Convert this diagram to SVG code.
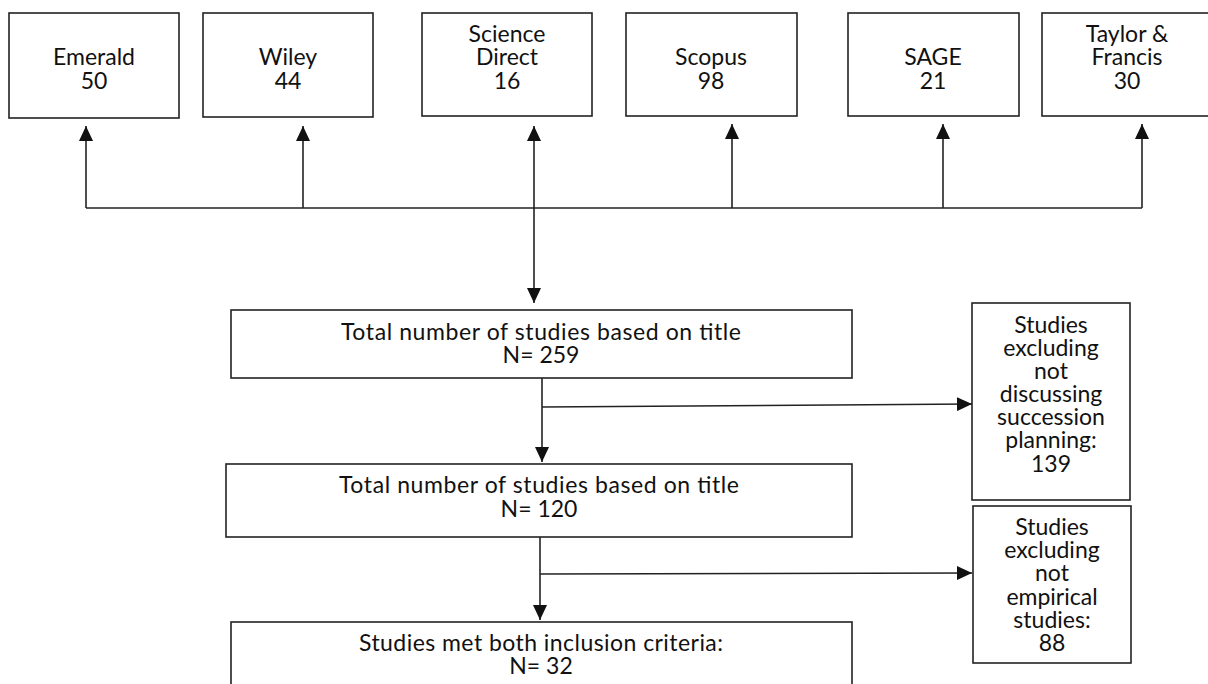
<svg xmlns="http://www.w3.org/2000/svg" width="1208" height="684" viewBox="0 0 1208 684">
<style>
.box{fill:#fff;stroke:#222;stroke-width:1.6}
.t{font-family:Lato,"Liberation Sans",sans-serif;font-size:23px;fill:#111;text-anchor:middle}
.ln{fill:none;stroke:#222;stroke-width:1.6}
</style>
<defs>
<marker id="ah" markerUnits="userSpaceOnUse" markerWidth="16" markerHeight="14" refX="15" refY="7" orient="auto">
<path d="M0,0 L15,7 L0,14 z" fill="#111"/>
</marker>
</defs>
<rect width="1208" height="684" fill="#fff"/>
<g id="emerald"><rect class="box" x="9" y="13" width="170" height="105"/><text class="t" x="94" y="65">Emerald</text><text class="t" x="94" y="89">50</text></g>
<g id="wiley"><rect class="box" x="203" y="13" width="170" height="104"/><text class="t" x="288" y="65">Wiley</text><text class="t" x="288" y="89">44</text></g>
<g id="sciencedirect"><rect class="box" x="422" y="13" width="170" height="103"/><text class="t" x="507" y="42">Science</text><text class="t" x="507" y="65">Direct</text><text class="t" x="507" y="89">16</text></g>
<g id="scopus"><rect class="box" x="626" y="13" width="171" height="103"/><text class="t" x="711" y="65">Scopus</text><text class="t" x="711" y="89">98</text></g>
<g id="sage"><rect class="box" x="848" y="13" width="171" height="103"/><text class="t" x="933" y="65">SAGE</text><text class="t" x="933" y="89">21</text></g>
<g id="taylor"><rect class="box" x="1042" y="13" width="171" height="103"/><text class="t" x="1127" y="42">Taylor &amp;</text><text class="t" x="1127" y="65">Francis</text><text class="t" x="1127" y="89">30</text></g>
<g id="total1"><rect class="box" x="231" y="310" width="621" height="68"/><text class="t" x="541" y="340" textLength="400" lengthAdjust="spacing">Total number of studies based on title</text><text class="t" x="541" y="363">N= 259</text></g>
<g id="total2"><rect class="box" x="226" y="464" width="626" height="73"/><text class="t" x="539" y="493" textLength="400" lengthAdjust="spacing">Total number of studies based on title</text><text class="t" x="539" y="517">N= 120</text></g>
<g id="final"><rect class="box" x="231" y="622" width="621" height="70"/><text class="t" x="541" y="651" textLength="364" lengthAdjust="spacing">Studies met both inclusion criteria:</text><text class="t" x="541" y="674">N= 32</text></g>
<g id="excl1"><rect class="box" x="972" y="303" width="158" height="197"/>
<text class="t" x="1051" y="333">Studies</text><text class="t" x="1051" y="356">excluding</text><text class="t" x="1051" y="379">not</text><text class="t" x="1051" y="402">discussing</text><text class="t" x="1051" y="425">succession</text><text class="t" x="1051" y="448">planning:</text><text class="t" x="1051" y="472">139</text></g>
<g id="excl2"><rect class="box" x="973" y="506" width="158" height="157"/>
<text class="t" x="1052" y="535">Studies</text><text class="t" x="1052" y="558">excluding</text><text class="t" x="1052" y="581">not</text><text class="t" x="1052" y="605">empirical</text><text class="t" x="1052" y="628">studies:</text><text class="t" x="1052" y="651">88</text></g>
<g id="connectors">
<line class="ln" x1="86" y1="208" x2="1142" y2="208"/>
<line class="ln" x1="86" y1="208" x2="86" y2="126" marker-end="url(#ah)"/>
<line class="ln" x1="303" y1="208" x2="303" y2="126" marker-end="url(#ah)"/>
<line class="ln" x1="534" y1="208" x2="534" y2="126" marker-end="url(#ah)"/>
<line class="ln" x1="732" y1="208" x2="732" y2="124" marker-end="url(#ah)"/>
<line class="ln" x1="943" y1="208" x2="943" y2="124" marker-end="url(#ah)"/>
<line class="ln" x1="1142" y1="208" x2="1142" y2="124" marker-end="url(#ah)"/>
<line class="ln" x1="534" y1="208" x2="534" y2="303" marker-end="url(#ah)"/>
<line class="ln" x1="542" y1="378" x2="542" y2="462" marker-end="url(#ah)"/>
<line class="ln" x1="542" y1="407" x2="972" y2="404" marker-end="url(#ah)"/>
<line class="ln" x1="540" y1="537" x2="540" y2="620" marker-end="url(#ah)"/>
<line class="ln" x1="540" y1="574" x2="972" y2="573" marker-end="url(#ah)"/>
</g>
</svg>
